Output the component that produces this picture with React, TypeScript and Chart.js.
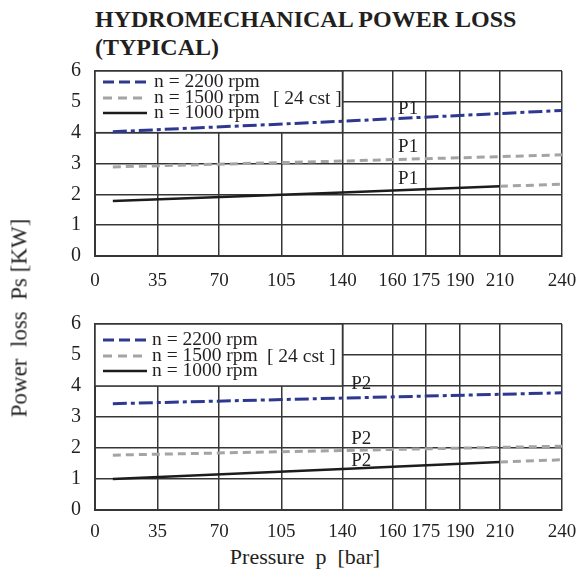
import React, { useEffect, useRef } from "react";
import { Chart, registerables } from "chart.js";

Chart.register(...registerables);

// ---------- data ----------
const TITLE_LINES = ["HYDROMECHANICAL POWER LOSS", "(TYPICAL)"];
const Y_TITLE = "Power  loss  Ps [KW]";
const X_TITLE = "Pressure  p  [bar]";

const PRESSURE_TICKS = [0, 35, 70, 105, 140, 160, 175, 190, 210, 240];
const SERIES_LABELS = ["n = 2200 rpm", "n = 1500 rpm", "n = 1000 rpm"];
const VISCOSITY_NOTE = "[ 24 cst ]";

const P_MAIN = [10, 140, 240];
const P_1000 = [10, 140, 210];
const P_EXT = [210, 240];

// Panel P1
const P1_2200 = [4.03, 4.37, 4.72];
const P1_1500 = [2.89, 3.08, 3.28];
const P1_1000 = [1.78, 2.06, 2.26];
const P1_1000_EXT = [2.26, 2.33];
const P1_TAG = "P1";
const P1_TAG_AT = [
  [162.5, 4.78],
  [162.5, 3.55],
  [162.5, 2.51],
];

// Panel P2
const P2_2200 = [3.43, 3.61, 3.78];
const P2_1500 = [1.77, 1.92, 2.06];
const P2_1000 = [1.0, 1.32, 1.55];
const P2_1000_EXT = [1.55, 1.62];
const P2_TAG = "P2";
const P2_TAG_AT = [
  [143.5, 4.08],
  [143.5, 2.3],
  [143.5, 1.58],
];

// ---------- axis geometry (non-uniform pressure axis) ----------
const TICK_FRACTIONS = [0, 0.1336, 0.266, 0.399, 0.53, 0.637, 0.709, 0.782, 0.867, 1];

function toAxis(p: number): number {
  for (let i = 1; i < PRESSURE_TICKS.length; i++) {
    if (p <= PRESSURE_TICKS[i]) {
      const p0 = PRESSURE_TICKS[i - 1];
      const p1 = PRESSURE_TICKS[i];
      const f0 = TICK_FRACTIONS[i - 1];
      const f1 = TICK_FRACTIONS[i];
      return f0 + ((p - p0) / (p1 - p0)) * (f1 - f0);
    }
  }
  return 1;
}

// ---------- styles ----------
const SERIF = "'Liberation Serif', 'Times New Roman', serif";
const BLUE = "#2e3890";
const GRAY = "#a4a4a4";
const BLACK = "#1c1c1c";
const GRID = "#363636";
const TEXT = "#231f20";
const BLUE_DASH = [14, 4, 4, 4];
const GRAY_DASH = [8, 5];

type PanelProps = {
  top: number;
  height: number;
  padTop: number;
  axisHeight: number;
  tickPad: number;
  legendRows: number[];
  textX: number;
  noteX: number;
  s2200: number[];
  s1500: number[];
  s1000: number[];
  s1000ext: number[];
  tag: string;
  tagAt: number[][];
};

function pts(ps: number[], vs: number[]) {
  return ps.map((p, i) => ({ x: toAxis(p), y: vs[i] }));
}

function Panel(props: PanelProps) {
  const ref = useRef<HTMLCanvasElement | null>(null);
  useEffect(() => {
    const canvas = ref.current;
    if (!canvas) return;

    const overlay = {
      id: "overlay",
      beforeDatasetsDraw(chart: any) {
        const { ctx } = chart;
        const x = chart.scales.x;
        const y = chart.scales.y;
        const left = x.getPixelForValue(toAxis(0));
        const right = x.getPixelForValue(toAxis(140));
        const top = y.getPixelForValue(6);
        const bottom = y.getPixelForValue(4);
        ctx.save();
        ctx.fillStyle = "#ffffff";
        ctx.fillRect(left, top, right - left, bottom - top);
        ctx.strokeStyle = GRID;
        ctx.lineWidth = 1.5;
        ctx.strokeRect(left, top, right - left, bottom - top);

        const colors = [BLUE, GRAY, BLACK];
        const dashes = [[11, 5], [9, 6], []];
        const widths = [3, 3, 2.5];
        ctx.font = `19.5px ${SERIF}`;
        ctx.textBaseline = "middle";
        ctx.textAlign = "left";
        SERIES_LABELS.forEach((label, i) => {
          const yy = top + props.legendRows[i];
          ctx.beginPath();
          ctx.setLineDash(dashes[i]);
          ctx.strokeStyle = colors[i];
          ctx.lineWidth = widths[i];
          ctx.moveTo(left + 8, yy);
          ctx.lineTo(left + 52, yy);
          ctx.stroke();
          ctx.setLineDash([]);
          ctx.fillStyle = TEXT;
          ctx.fillText(label, left + props.textX, yy);
        });
        ctx.fillText(VISCOSITY_NOTE, left + props.noteX, top + props.legendRows[1] + 1);
        ctx.restore();
      },
      afterDatasetsDraw(chart: any) {
        const { ctx } = chart;
        const x = chart.scales.x;
        const y = chart.scales.y;
        ctx.save();
        ctx.font = `19px ${SERIF}`;
        ctx.fillStyle = TEXT;
        ctx.textBaseline = "middle";
        ctx.textAlign = "left";
        props.tagAt.forEach(([p, v]) => {
          ctx.fillText(props.tag, x.getPixelForValue(toAxis(p)), y.getPixelForValue(v));
        });
        ctx.restore();
      },
    };

    const chart = new Chart(canvas, {
      type: "line",
      data: {
        datasets: [
          {
            label: SERIES_LABELS[1],
            data: pts(P_MAIN, props.s1500),
            borderColor: GRAY,
            borderWidth: 3,
            borderDash: GRAY_DASH,
            pointRadius: 0,
            tension: 0,
          },
          {
            label: SERIES_LABELS[2],
            data: pts(P_1000, props.s1000),
            borderColor: BLACK,
            borderWidth: 2.5,
            pointRadius: 0,
            tension: 0,
          },
          {
            label: "",
            data: pts(P_EXT, props.s1000ext),
            borderColor: GRAY,
            borderWidth: 3,
            borderDash: GRAY_DASH,
            pointRadius: 0,
            tension: 0,
          },
          {
            label: SERIES_LABELS[0],
            data: pts(P_MAIN, props.s2200),
            borderColor: BLUE,
            borderWidth: 3,
            borderDash: BLUE_DASH,
            pointRadius: 0,
            tension: 0,
          },
        ],
      },
      options: {
        responsive: false,
        animation: false,
        layout: { padding: { top: props.padTop, right: 15, left: 0, bottom: 0 } },
        plugins: {
          legend: { display: false },
          tooltip: { enabled: false },
        },
        scales: {
          x: {
            type: "linear",
            min: 0,
            max: 1,
            afterBuildTicks: (s: any) => {
              s.ticks = TICK_FRACTIONS.map((v) => ({ value: v }));
            },
            afterFit: (s: any) => {
              s.height = props.axisHeight;
              s.paddingLeft = 0;
              s.paddingRight = 0;
            },
            grid: { color: GRID, lineWidth: 1.5, drawTicks: false },
            border: { color: GRID, width: 2 },
            ticks: {
              autoSkip: false,
              maxRotation: 0,
              minRotation: 0,
              padding: props.tickPad,
              color: TEXT,
              font: { family: SERIF, size: 19 },
              callback: (_v: any, i: number) => String(PRESSURE_TICKS[i]),
            },
          },
          y: {
            min: 0,
            max: 6,
            afterFit: (s: any) => {
              s.width = 95;
              s.paddingTop = 0;
              s.paddingBottom = 0;
            },
            grid: { color: GRID, lineWidth: 1.5, drawTicks: false },
            border: { color: GRID, width: 2 },
            ticks: {
              stepSize: 1,
              padding: 14,
              color: TEXT,
              font: { family: SERIF, size: 20 },
            },
          },
        },
      },
      plugins: [overlay],
    } as any);
    return () => chart.destroy();
  }, []);

  return (
    <canvas
      ref={ref}
      width={577}
      height={props.height}
      style={{ position: "absolute", left: 0, top: props.top, width: 577, height: props.height, display: "block" }}
    />
  );
}

export default function App() {
  return (
    <div
      style={{
        position: "fixed",
        left: 0,
        top: 0,
        width: 577,
        height: 569,
        background: "#ffffff",
        overflow: "hidden",
      }}
    >
      <div
        style={{
          position: "absolute",
          left: 95,
          top: 5,
          font: `bold 24px ${SERIF}`,
          lineHeight: "28px",
          color: TEXT,
          whiteSpace: "pre",
        }}
      >
        {TITLE_LINES.join("\n")}
      </div>
      <Panel
        top={58}
        height={246}
        padTop={13}
        axisHeight={48}
        tickPad={14}
        legendRows={[11, 27, 42]}
        textX={59}
        noteX={178}
        s2200={P1_2200}
        s1500={P1_1500}
        s1000={P1_1000}
        s1000ext={P1_1000_EXT}
        tag={P1_TAG}
        tagAt={P1_TAG_AT}
      />
      <Panel
        top={312}
        height={228}
        padTop={12}
        axisHeight={30}
        tickPad={11}
        legendRows={[16, 32, 47]}
        textX={57}
        noteX={172}
        s2200={P2_2200}
        s1500={P2_1500}
        s1000={P2_1000}
        s1000ext={P2_1000_EXT}
        tag={P2_TAG}
        tagAt={P2_TAG_AT}
      />
      <div
        style={{
          position: "absolute",
          left: 19,
          top: 318,
          transform: "translate(-50%, -50%) rotate(-90deg)",
          font: `23px ${SERIF}`,
          lineHeight: "23px",
          color: TEXT,
          whiteSpace: "pre",
        }}
      >
        {Y_TITLE}
      </div>
      <div
        style={{
          position: "absolute",
          left: 305,
          top: 546,
          transform: "translateX(-50%)",
          font: `22px ${SERIF}`,
          lineHeight: "22px",
          color: TEXT,
          whiteSpace: "pre",
        }}
      >
        {X_TITLE}
      </div>
    </div>
  );
}
